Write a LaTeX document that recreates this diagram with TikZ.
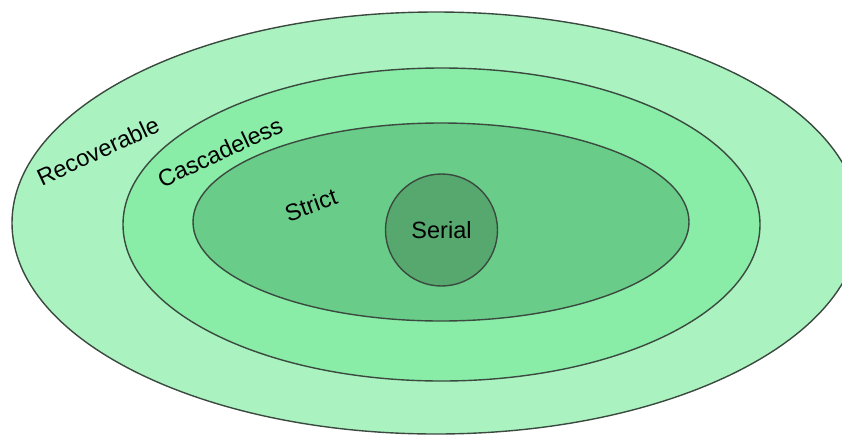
\documentclass[tikz,border=0pt]{standalone}
\usepackage{fontspec}
\setsansfont{Liberation Sans}
\usetikzlibrary{shapes.geometric}
\definecolor{crecov}{HTML}{ABF2C1}
\definecolor{ccasc}{HTML}{89ECA7}
\definecolor{cstrict}{HTML}{6ACC89}
\definecolor{cserial}{HTML}{56A86E}
\definecolor{cedge}{HTML}{3A4A3F}
\tikzset{
  every picture/.style={font=\sffamily\fontsize{23.5}{27}\selectfont, line width=1.4pt},
  set/.style={ellipse, draw=cedge, fill=#1, inner sep=0pt},
  setlabel/.style={inner sep=0pt, anchor=center},
}

\begin{document}
\begin{tikzpicture}[x=1pt, y=-1pt]
  \useasboundingbox (0,0) rectangle (842,437);
  % nested sets, outermost first
  \node[set=crecov, minimum width=848, minimum height=422] (recov) at (436,223) {};
  \node[set=ccasc, minimum width=637, minimum height=313] (casc) at (441.5,224.5) {};
  \node[set=cstrict, minimum width=496, minimum height=198] (strict) at (441,222) {};
  \node[set=cserial, circle, minimum size=112] (serial) at (441.5,230) {Serial};
  % names of the outer sets
  \node[setlabel, rotate=25] (recovlabel) at (98,151) {Recoverable};
  \node[setlabel, rotate=25] (casclabel) at (220,152) {Cascadeless};
  \node[setlabel, rotate=20] (strictlabel) at (311,205) {Strict};
\end{tikzpicture}
\end{document}
